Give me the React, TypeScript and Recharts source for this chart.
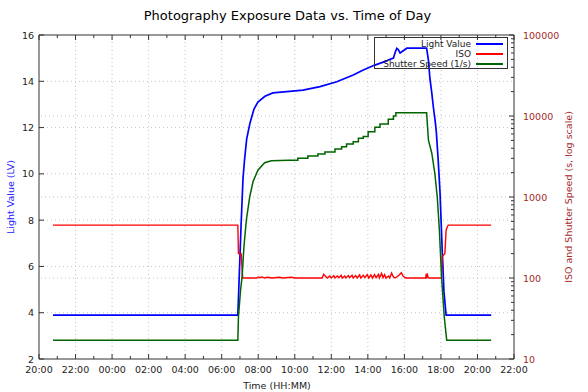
import { Legend, Line, LineChart, ReferenceLine, XAxis, YAxis } from 'recharts'

// times are HH:MM, starting 20:46 on the first evening and running to 20:45 the next evening
const lvTimes = ['20:46', '06:53', '07:04', '07:10', '07:15', '07:22', '07:33', '07:46', '07:59', '08:22', '08:48', '09:34', '10:27', '11:23', '12:18', '13:12', '13:45', '14:23', '15:02', '15:07', '15:24', '15:29', '15:35', '15:40', '15:46', '15:56', '16:08', '17:13', '17:19', '17:24', '17:30', '17:35', '17:41', '17:45', '17:51', '17:57', '18:04', '18:10', '18:17', '20:45']
const lvValues = [3.9, 3.9, 7.9, 9.8, 10.6, 11.5, 12.2, 12.8, 13.1, 13.35, 13.5, 13.55, 13.62, 13.77, 13.98, 14.27, 14.49, 14.7, 14.88, 14.92, 15.0, 15.22, 15.42, 15.37, 15.22, 15.32, 15.43, 15.43, 14.9, 14.1, 13.5, 12.9, 12.3, 11.8, 10.6, 9.2, 6.8, 4.9, 3.9, 3.9]

const isoTimes = ['20:46', '06:53', '06:55', '07:04', '07:09', '07:55', '08:00', '08:05', '08:12', '08:20', '08:30', '08:45', '09:10', '09:20', '09:50', '10:00', '11:30', '11:35', '11:42', '11:47', '11:55', '12:00', '12:08', '12:12', '12:20', '12:25', '12:32', '12:36', '12:44', '12:48', '12:56', '13:00', '13:08', '13:12', '13:20', '13:25', '13:33', '13:37', '13:45', '13:50', '13:58', '14:03', '14:10', '14:15', '14:22', '14:27', '14:35', '14:38', '14:45', '14:50', '14:55', '15:00', '15:08', '15:12', '15:18', '15:24', '15:30', '15:42', '15:50', '15:56', '16:05', '17:10', '17:12', '17:14', '17:16', '17:18', '17:22', '18:02', '18:04', '18:13', '18:17', '18:21', '18:24', '20:45']
const isoValues = [450, 450, 200, 200, 100, 100, 103, 101, 103, 100, 102, 100, 102, 100, 102, 100, 100, 111, 104, 100, 106, 100, 107, 100, 106, 101, 108, 100, 106, 100, 107, 101, 108, 100, 107, 100, 109, 100, 108, 101, 110, 100, 109, 100, 110, 101, 111, 100, 114, 101, 110, 100, 106, 100, 115, 103, 100, 108, 116, 105, 100, 100, 113, 104, 109, 101, 100, 100, 183, 200, 390, 430, 450, 450]

const shutterTimes = ['20:46', '06:53', '06:55', '07:02', '07:07', '07:13', '07:21', '07:32', '07:43', '07:59', '08:21', '08:43', '09:40', '10:10', '10:10', '10:43', '10:43', '11:16', '11:16', '11:39', '11:39', '12:12', '12:12', '12:34', '12:34', '12:50', '12:50', '13:12', '13:12', '13:29', '13:29', '13:45', '13:45', '14:01', '14:01', '14:23', '14:23', '14:40', '14:40', '15:07', '15:07', '15:24', '15:24', '15:32', '15:32', '17:13', '17:19', '17:30', '17:40', '17:48', '17:55', '18:02', '18:11', '18:19', '20:45']
const shutterValues = [17, 17, 33, 71, 104, 243, 520, 1000, 1550, 2140, 2650, 2800, 2850, 2850, 3000, 3000, 3200, 3200, 3400, 3400, 3600, 3600, 3900, 3900, 4180, 4180, 4500, 4500, 4800, 4800, 5300, 5300, 5600, 5600, 6400, 6400, 7250, 7250, 7940, 7940, 9100, 9100, 10000, 10000, 11000, 11000, 5040, 3470, 1950, 1000, 390, 104, 33, 17, 17]

const seriesNames = ['Light Value', 'ISO', 'Shutter Speed (1/s)']
const hourTicks = [0, 1, 2, 3, 4, 5, 6, 7, 8, 9, 10, 11, 12, 13, 14, 15, 16, 17, 18, 19, 20, 21, 22, 23, 24, 25, 26]
const lvTicks = [2, 4, 6, 8, 10, 12, 14, 16]
const logTicks = [10, 20, 30, 40, 50, 60, 70, 80, 90, 100, 200, 300, 400, 500, 600, 700, 800, 900, 1000, 2000, 3000, 4000, 5000, 6000, 7000, 8000, 9000, 10000, 20000, 30000, 40000, 50000, 60000, 70000, 80000, 90000, 100000]
const xGrid = [2, 4, 6, 8, 10, 12, 14, 16, 18, 20, 22, 24]
const lvGrid = [4, 6, 8, 10, 12, 14]
const logGrid = [100, 1000, 10000]

const W = 588
const H = 392
const TOP = 35
const X_AXIS_H = 33
const PLOT_H = H - TOP - X_AXIS_H
const FONT = '"DejaVu Sans", sans-serif'
const FRAME = '#333'
const GRID = '#c4c4c4'
const RIGHT_COLOR = '#a52a2a'
const LV_COLOR = '#0000ff'
const ISO_COLOR = '#ff0000'
const SHUTTER_COLOR = '#006400'

// hours since 20:00 on the first evening
function toHours(times: string[]) {
  let offset = 0
  let prev = -1
  return times.map((s) => {
    const [hh, mm] = s.split(':').map(Number)
    let h = ((hh - 20 + 24) % 24) + mm / 60 + offset
    if (h < prev) {
      offset += 24
      h += 24
    }
    prev = h
    return h
  })
}

const zip = (times: string[], values: number[]) => {
  const hrs = toHours(times)
  return values.map((v, i) => ({ t: hrs[i], v }))
}

const lvData = zip(lvTimes, lvValues)
const isoData = zip(isoTimes, isoValues)
const shutterData = zip(shutterTimes, shutterValues)

const fmtHour = (h: number) => `${String((20 + h) % 24).padStart(2, '0')}:00`

function TimeTick(props: any) {
  const { x, y, payload } = props
  const major = payload.value % 2 === 0
  const len = major ? 5 : 3
  return (
    <g>
      <line x1={x} y1={y} x2={x} y2={y - len} stroke={FRAME} />
      <line x1={x} y1={y - PLOT_H} x2={x} y2={y - PLOT_H + len} stroke={FRAME} />
      {major && (
        <text x={x} y={y + 14} textAnchor="middle" fontSize={9.5} fontFamily={FONT} fill="#222">
          {fmtHour(payload.value)}
        </text>
      )}
    </g>
  )
}

function LvTick(props: any) {
  const { x, y, payload } = props
  return (
    <g>
      <line x1={x} y1={y} x2={x + 5} y2={y} stroke={FRAME} />
      <text x={x - 5} y={y + 3.5} textAnchor="end" fontSize={9.5} fontFamily={FONT} fill="#222">
        {payload.value}
      </text>
    </g>
  )
}

function LogTick(props: any) {
  const { x, y, payload } = props
  const major = Math.abs(Math.log10(payload.value) % 1) < 1e-9
  return (
    <g>
      <line x1={x} y1={y} x2={x - (major ? 5 : 3)} y2={y} stroke={FRAME} />
      {major && (
        <text x={x + 9} y={y + 3.5} textAnchor="start" fontSize={9.5} fontFamily={FONT} fill={RIGHT_COLOR}>
          {payload.value}
        </text>
      )}
    </g>
  )
}

function LegendBox({ payload }: any) {
  const items = [...(payload || [])].sort(
    (a: any, b: any) => seriesNames.indexOf(a.value) - seriesNames.indexOf(b.value),
  )
  return (
    <div
      style={{
        border: `1px solid ${FRAME}`,
        boxSizing: 'border-box',
        width: 134,
        height: 32,
        paddingTop: 1,
        fontFamily: FONT,
        fontSize: 9,
        color: '#222',
      }}
    >
      {items.map((p: any) => (
        <div
          key={p.value}
          style={{
            height: 10,
            display: 'flex',
            justifyContent: 'flex-end',
            alignItems: 'center',
            paddingRight: 4,
          }}
        >
          <span style={{ whiteSpace: 'nowrap' }}>{p.value}</span>
          <span
            style={{
              display: 'inline-block',
              width: 27,
              height: 2,
              marginLeft: 5,
              background: p.color,
            }}
          />
        </div>
      ))}
    </div>
  )
}

const labelStyle = {
  position: 'absolute' as const,
  fontFamily: FONT,
  fontSize: 9.5,
  whiteSpace: 'nowrap' as const,
  transform: 'translate(-50%, -50%) rotate(-90deg)',
}

export default function App() {
  return (
    <div style={{ position: 'absolute', left: 0, top: 0, width: W, height: H, background: '#fff' }}>
      <LineChart width={W} height={H} margin={{ top: TOP, right: 0, bottom: 0, left: 0 }}>
        <XAxis
          xAxisId="b"
          type="number"
          dataKey="t"
          domain={[0, 26]}
          ticks={hourTicks}
          interval={0}
          height={X_AXIS_H}
          allowDataOverflow
          tickLine={false}
          tickSize={0}
          tickMargin={0}
          axisLine={{ stroke: FRAME }}
          tick={(p: any) => <TimeTick {...p} />}
        />
        <YAxis
          yAxisId="l"
          type="number"
          domain={[2, 16]}
          ticks={lvTicks}
          interval={0}
          width={39}
          allowDataOverflow
          tickLine={false}
          tickSize={0}
          tickMargin={0}
          axisLine={{ stroke: FRAME }}
          tick={(p: any) => <LvTick {...p} />}
        />
        <YAxis
          yAxisId="r"
          orientation="right"
          type="number"
          scale="log"
          domain={[10, 100000]}
          ticks={logTicks}
          interval={0}
          width={74}
          allowDataOverflow
          tickLine={false}
          tickSize={0}
          tickMargin={0}
          axisLine={{ stroke: FRAME }}
          tick={(p: any) => <LogTick {...p} />}
        />
        {xGrid.map((h) => (
          <ReferenceLine key={`x${h}`} xAxisId="b" yAxisId="l" x={h} stroke={GRID} strokeDasharray="1 3" />
        ))}
        {lvGrid.map((v) => (
          <ReferenceLine key={`l${v}`} xAxisId="b" yAxisId="l" y={v} stroke={GRID} strokeDasharray="1 3" />
        ))}
        {logGrid.map((v) => (
          <ReferenceLine key={`r${v}`} xAxisId="b" yAxisId="r" y={v} stroke={GRID} strokeDasharray="1 3" />
        ))}
        <ReferenceLine xAxisId="b" yAxisId="l" y={16} stroke={FRAME} ifOverflow="extendDomain" />
        <Line
          xAxisId="b"
          yAxisId="l"
          data={lvData}
          dataKey="v"
          name={seriesNames[0]}
          stroke={LV_COLOR}
          strokeWidth={1.7}
          dot={false}
          type="linear"
          isAnimationActive={false}
        />
        <Line
          xAxisId="b"
          yAxisId="r"
          data={isoData}
          dataKey="v"
          name={seriesNames[1]}
          stroke={ISO_COLOR}
          strokeWidth={1.4}
          dot={false}
          type="linear"
          isAnimationActive={false}
        />
        <Line
          xAxisId="b"
          yAxisId="r"
          data={shutterData}
          dataKey="v"
          name={seriesNames[2]}
          stroke={SHUTTER_COLOR}
          strokeWidth={1.5}
          dot={false}
          type="linear"
          isAnimationActive={false}
        />
        <Legend
          layout="vertical"
          align="center"
          verticalAlign="middle"
          wrapperStyle={{ left: 374, top: 37, width: 134, height: 32 }}
          content={(p: any) => <LegendBox {...p} />}
        />
      </LineChart>
      <div
        style={{
          position: 'absolute',
          left: 0,
          top: 7,
          width: 575,
          textAlign: 'center',
          fontFamily: FONT,
          fontSize: 13,
          lineHeight: '18px',
          color: '#000',
        }}
      >
        Photography Exposure Data vs. Time of Day
      </div>
      <div style={{ ...labelStyle, left: 10, top: 197, color: '#2020ff' }}>Light Value (LV)</div>
      <div style={{ ...labelStyle, left: 568, top: 197, color: RIGHT_COLOR }}>
        ISO and Shutter Speed (s, log scale)
      </div>
      <div
        style={{
          position: 'absolute',
          left: 277,
          top: 385,
          transform: 'translate(-50%, -50%)',
          fontFamily: FONT,
          fontSize: 9.5,
          color: '#222',
          whiteSpace: 'nowrap',
        }}
      >
        Time (HH:MM)
      </div>
    </div>
  )
}
